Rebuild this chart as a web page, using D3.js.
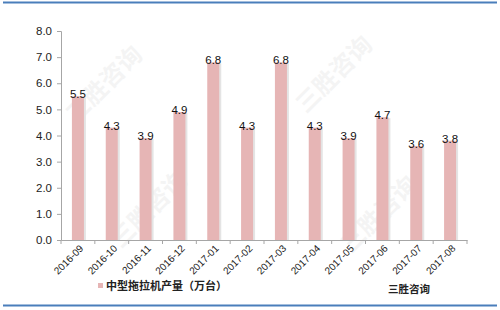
<!DOCTYPE html>
<html>
<head>
<meta charset="utf-8">
<script src="https://cdn.jsdelivr.net/npm/d3@7"></script>
<style>
  body { margin: 0; background: #fff; }
  svg { display: block; font-family: "Liberation Sans", Arial, sans-serif; }
</style>
</head>
<body>
<div id="chart"></div>
<script>
const months = ['2016-09', '2016-10', '2016-11', '2016-12', '2017-01', '2017-02',
    '2017-03', '2017-04', '2017-05', '2017-06', '2017-07', '2017-08'];
const output = [5.5, 4.3, 3.9, 4.9, 6.8, 4.3, 6.8, 4.3, 3.9, 4.7, 3.6, 3.8];
const yTicks = [0, 1, 2, 3, 4, 5, 6, 7, 8];
const seriesName = '中型拖拉机产量（万台）';
const sourceName = '三胜咨询';

const width = 500, height = 310;
const margin = { top: 31, right: 33, bottom: 70, left: 61 };

const svg = d3.select('#chart').append('svg')
    .attr('width', width)
    .attr('height', height);

// faint watermarks
[[110, 90], [340, 80], [155, 215], [385, 220]].forEach(([wx, wy]) => {
    svg.append('text')
        .attr('transform', `translate(${wx},${wy}) rotate(-45)`)
        .attr('text-anchor', 'middle')
        .attr('font-family', '"Noto Sans CJK SC", sans-serif')
        .attr('font-size', 24)
        .attr('font-weight', 'bold')
        .attr('fill', '#000')
        .attr('opacity', 0.04)
        .text('三胜咨询');
});

// frame lines
svg.append('line').attr('x1', 3).attr('x2', 497).attr('y1', 2.5).attr('y2', 2.5)
    .attr('stroke', '#4a7ebb').attr('stroke-width', 2);
svg.append('line').attr('x1', 3).attr('x2', 497).attr('y1', 305.5).attr('y2', 305.5)
    .attr('stroke', '#4a7ebb').attr('stroke-width', 2);

const x = d3.scaleBand()
    .domain(months)
    .range([margin.left, width - margin.right]);

const y = d3.scaleLinear()
    .domain([0, 8])
    .range([height - margin.bottom, margin.top]);

const barW = 12;

// bar shadows
svg.append('g').selectAll('rect')
    .data(output)
    .join('rect')
    .attr('x', (d, i) => x(months[i]) + x.bandwidth() / 2 - barW / 2 + 2)
    .attr('y', d => y(d) + 1)
    .attr('width', barW)
    .attr('height', d => y(0) - y(d) - 1)
    .attr('fill', '#e4e4e4');

svg.append('g').selectAll('rect')
    .data(output)
    .join('rect')
    .attr('x', (d, i) => x(months[i]) + x.bandwidth() / 2 - barW / 2)
    .attr('y', d => y(d))
    .attr('width', barW)
    .attr('height', d => y(0) - y(d))
    .attr('fill', '#e6b5b5');

// y axis
const yAxis = svg.append('g')
    .attr('transform', `translate(${margin.left},0)`)
    .call(d3.axisLeft(y).tickValues(yTicks).tickFormat(d3.format('.1f')).tickSize(4).tickPadding(5));
yAxis.select('.domain').attr('stroke', '#a6a6a6');
yAxis.selectAll('.tick line').attr('stroke', '#a6a6a6');
yAxis.selectAll('text').attr('font-size', 11.5).attr('fill', '#222');

// x axis with ticks at band edges
const xAxis = svg.append('g')
    .attr('transform', `translate(0,${y(0)})`)
    .call(d3.axisBottom(x).tickSize(0).tickSizeOuter(0));
xAxis.select('.domain').attr('stroke', '#a6a6a6');
xAxis.selectAll('.tick text')
    .attr('font-size', 10)
    .attr('fill', '#222')
    .attr('text-anchor', 'end')
    .attr('dy', 0)
    .attr('transform', 'translate(4,7) rotate(-45)');
xAxis.selectAll('.edge')
    .data(months.concat(['end']))
    .join('line')
    .attr('class', 'edge')
    .attr('x1', (d, i) => margin.left + i * x.step())
    .attr('x2', (d, i) => margin.left + i * x.step())
    .attr('y1', 0)
    .attr('y2', 4)
    .attr('stroke', '#a6a6a6');

// value labels
svg.append('g').selectAll('text')
    .data(output)
    .join('text')
    .attr('x', (d, i) => x(months[i]) + x.bandwidth() / 2)
    .attr('y', d => y(d) + 2)
    .attr('text-anchor', 'middle')
    .attr('font-size', 11.5)
    .attr('fill', '#111')
    .text(d => d3.format('.1f')(d));

// legend
svg.append('rect')
    .attr('x', 98).attr('y', 283).attr('width', 5).attr('height', 5)
    .attr('fill', '#e6b5b5');
svg.append('text')
    .attr('x', 106).attr('y', 290)
    .attr('font-family', '"Noto Sans CJK SC", sans-serif')
    .attr('font-size', 11)
    .attr('font-weight', 'bold')
    .attr('fill', '#222')
    .text(seriesName);
svg.append('text')
    .attr('x', 388).attr('y', 293)
    .attr('font-family', '"Noto Sans CJK SC", sans-serif')
    .attr('font-size', 10.5)
    .attr('font-weight', 'bold')
    .attr('fill', '#222')
    .text(sourceName);
</script>
</body>
</html>
